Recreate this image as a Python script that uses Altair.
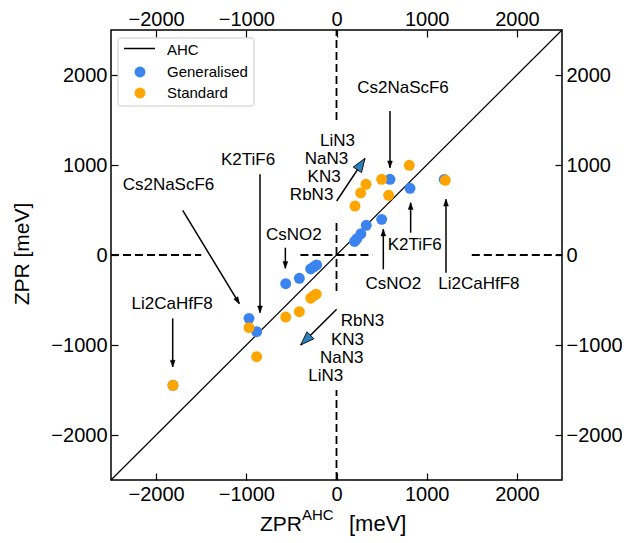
import math
import altair as alt
import pandas as pd

FONT = "Liberation Sans"

# ---- data (meV) ----
gen_x = [-1813, -970, -885, -563, -412, -286, -250, -220, 200, 225, 270, 330, 501, 593, 815, 1195]
gen_y = [-1448, -704, -852, -319, -259, -155, -130, -111, 150, 180, 235, 330, 396, 841, 741, 840]
std_x = [-1813, -970, -885, -563, -412, -285, -255, -225, 205, 268, 327, 501, 578, 807, 1206]
std_y = [-1448, -807, -1130, -689, -630, -480, -455, -435, 544, 689, 785, 841, 663, 997, 830]

diag = [-2500, 2500]
ticks = [-2000, -1000, 0, 1000, 2000]
dash_lo = [-2500, -400, 1500]
dash_hi = [-1500, 400, 2500]

ann_label = ["Cs2NaScF6", "K2TiF6", "Cs2NaScF6", "CsNO2",
             "LiN3", "NaN3", "KN3", "RbN3",
             "K2TiF6", "CsNO2", "Li2CaHfF8", "Li2CaHfF8",
             "RbN3", "KN3", "NaN3", "LiN3"]
ann_x = [737, -981, -1863, -473, 205, 131, 46, -35, 867, 630, 1578, -1822, 46, -61, -183, -313]
ann_y = [1859, 1052, 774, 222, 1267, 1063, 867, 667, 111, -326, -326, -541, -733, -944, -1148, -1344]
ann_align = ["center", "center", "center", "center",
             "right", "right", "right", "right",
             "center", "center", "center", "center",
             "left", "left", "left", "left"]

arr_x1 = [593, -848, -1705, -567, 822, 519, 1214, -1816, 2, 2]
arr_y1 = [1600, 897, 496, 81, 248, -159, -196, -704, 600, -603]
arr_x2 = [593, -848, -1077, -567, 822, 519, 1214, -1816, 316, -397]
arr_y2 = [970, -641, -541, -148, 581, 286, 619, -1244, 1074, -1000]
arr_kind = ["k", "k", "k", "k", "k", "k", "k", "k", "b", "b"]

legend_labels = ["AHC", "Generalised", "Standard"]

BLUE = "#3b83ee"
ORANGE = "#ffa500"
HEADBLUE = "#2c7fb8"

W, H = 451, 450
DOM = [-2500, 2500]

# ---- tables ----
pts = pd.DataFrame({
    "x": gen_x + std_x,
    "y": gen_y + std_y,
    "series": ["Generalised"] * len(gen_x) + ["Standard"] * len(std_x),
    "order": [0] * len(gen_x) + [1] * len(std_x),
})
diag_df = pd.DataFrame({"x": diag, "y": diag})
hdash = pd.DataFrame({"x": dash_lo, "x2": dash_hi, "y": [0] * 3})
vdash = pd.DataFrame({"y": dash_lo, "y2": dash_hi, "x": [0] * 3})
ann = pd.DataFrame({"label": ann_label, "x": ann_x, "y": ann_y, "align": ann_align})
angles = []
for a, b, c, d in zip(arr_x1, arr_y1, arr_x2, arr_y2):
    dx = (c - a) * W / 5000.0
    up = (d - b) * H / 5000.0
    angles.append(math.degrees(math.atan2(dx, up)) % 360)
arr = pd.DataFrame({"x1": arr_x1, "y1": arr_y1, "x2": arr_x2, "y2": arr_y2,
                    "kind": arr_kind, "angle": angles})

xs = alt.Scale(domain=DOM, nice=False, zero=False)
ys = alt.Scale(domain=DOM, nice=False, zero=False)


def ax(orient, pad=4):
    return alt.Axis(orient=orient, values=ticks, title=None, format="d",
                    tickSize=7, offset=-7, domain=False, grid=False,
                    labelPadding=pad, labelFont=FONT, labelFontSize=20,
                    labelColor="black", tickColor="black", tickWidth=1.2)


points = alt.Chart(pts).mark_circle(size=120, opacity=1).encode(
    x=alt.X("x:Q", scale=xs, axis=ax("bottom")),
    y=alt.Y("y:Q", scale=ys, axis=ax("left")),
    color=alt.Color("series:N", scale=alt.Scale(domain=["Generalised", "Standard"],
                                                range=[BLUE, ORANGE]), legend=None),
    order=alt.Order("order:Q"),
)

diag_line = alt.Chart(diag_df).mark_line(color="black", strokeWidth=1.2).encode(
    x=alt.X("x:Q", scale=xs, axis=ax("top", pad=1)),
    y=alt.Y("y:Q", scale=ys, axis=ax("right")),
)

hd = alt.Chart(hdash).mark_rule(color="black", strokeWidth=1.8, strokeDash=[8, 4]).encode(
    x=alt.X("x:Q", scale=xs, axis=None), x2="x2:Q",
    y=alt.Y("y:Q", scale=ys, axis=None),
)
vd = alt.Chart(vdash).mark_rule(color="black", strokeWidth=1.8, strokeDash=[8, 4]).encode(
    y=alt.Y("y:Q", scale=ys, axis=None), y2="y2:Q",
    x=alt.X("x:Q", scale=xs, axis=None),
)

shafts = alt.Chart(arr).mark_rule(color="black", strokeWidth=1.5).encode(
    x=alt.X("x1:Q", scale=xs, axis=None), x2="x2:Q",
    y=alt.Y("y1:Q", scale=ys, axis=None), y2="y2:Q",
)
HEAD = "M0,0L-0.36,1L0.36,1Z"
heads_k = alt.Chart(arr).transform_filter(alt.datum.kind == "k").mark_point(
    shape=HEAD, filled=True, fill="black", stroke="black", strokeWidth=0.5,
    size=180, opacity=1).encode(
    x=alt.X("x2:Q", scale=xs, axis=None),
    y=alt.Y("y2:Q", scale=ys, axis=None),
    angle=alt.Angle("angle:Q", scale=None),
)
heads_b = alt.Chart(arr).transform_filter(alt.datum.kind == "b").mark_point(
    shape=HEAD, filled=True, fill=HEADBLUE, stroke="black", strokeWidth=0.8,
    size=760, opacity=1).encode(
    x=alt.X("x2:Q", scale=xs, axis=None),
    y=alt.Y("y2:Q", scale=ys, axis=None),
    angle=alt.Angle("angle:Q", scale=None),
)

texts = []
for al in ["left", "center", "right"]:
    texts.append(
        alt.Chart(ann).transform_filter(alt.datum.align == al).mark_text(
            align=al, baseline="middle", font=FONT, fontSize=17, color="black").encode(
            x=alt.X("x:Q", scale=xs, axis=None),
            y=alt.Y("y:Q", scale=ys, axis=None),
            text="label:N",
        )
    )

one = pd.DataFrame({"k": [0]})


def ptext(txt, x, y, size, align="left", baseline="alphabetic", angle=0):
    kw = dict(align=align, baseline=baseline, font=FONT, fontSize=size,
              color="black", text=txt)
    if angle:
        kw["angle"] = angle
    return alt.Chart(one).mark_text(**kw).encode(x=alt.value(x), y=alt.value(y))


titles = [
    ptext("ZPR", 149, 501, 21),
    ptext(legend_labels[0], 191, 490, 15),
    ptext("[meV]", 238, 501, 22),
    ptext("ZPR [meV]", -88, 224, 21, align="center", baseline="middle", angle=270),
]

# manual legend
leg_box = alt.Chart(one).mark_rect(fill="white", stroke="#cccccc", strokeWidth=1,
                                   cornerRadius=3).encode(
    x=alt.value(7), x2=alt.value(143), y=alt.value(8), y2=alt.value(76))
leg_line = alt.Chart(one).mark_rule(color="black", strokeWidth=1.5).encode(
    x=alt.value(13), x2=alt.value(44), y=alt.value(18.5))
leg_b = alt.Chart(one).mark_circle(size=120, color=BLUE, opacity=1).encode(
    x=alt.value(29), y=alt.value(42))
leg_o = alt.Chart(one).mark_circle(size=120, color=ORANGE, opacity=1).encode(
    x=alt.value(29), y=alt.value(63))
leg_txt = [ptext(legend_labels[0], 56, 19.5, 15, baseline="middle"),
           ptext(legend_labels[1], 56, 41.5, 15, baseline="middle"),
           ptext(legend_labels[2], 56, 63, 15, baseline="middle")]

chart = alt.layer(
    hd, vd, diag_line, points, shafts, heads_k, heads_b, *texts, *titles,
    leg_box, leg_line, leg_b, leg_o, *leg_txt
).resolve_axis(x="independent", y="independent").properties(
    width=W, height=H,
    autosize=alt.AutoSizeParams(type="none"),
    padding={"left": 103, "top": 22, "right": 60, "bottom": 62},
).configure_view(stroke="black", strokeWidth=1.5)

chart.save("out.html", embed_options={"renderer": "svg", "actions": False})
